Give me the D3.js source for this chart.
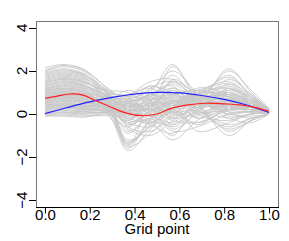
<!DOCTYPE html>
<html>
<head>
<meta charset="utf-8">
<script src="https://cdn.jsdelivr.net/npm/d3@7"></script>
<style>
body { margin: 0; background: #fff; }
svg { display: block; font-family: 'Liberation Sans', Arial, sans-serif; }
</style>
</head>
<body>
<script>
var gridKnots = [0, 0.08, 0.17, 0.28, 0.37, 0.47, 0.57, 0.68, 0.82, 0.92, 1];

// simulated curves (gray)
var grayCurves = [
	[2.15, 2.3, 2.1, 1.2, 0.6, 0.8, 1.2, 0.7, 0.9, 0.6, 0.2],
	[2.0, 2.2, 2.0, 1.0, 0.2, 0.3, 2.2, 0.9, 0.4, 0.3, 0.15],
	[1.9, 2.05, 1.85, 1.1, 0.8, 1.3, 1.0, 0.5, 2.1, 1.0, 0.2],
	[1.8, 1.95, 1.8, 0.9, -0.3, -0.2, 0.6, 0.8, 0.3, 0.2, 0.1],
	[1.7, 1.85, 1.7, 1.0, 0.9, 1.5, 1.6, 0.6, 0.2, 0.4, 0.15],
	[1.6, 1.75, 1.6, 0.8, 0.3, 0.6, -0.2, 0.9, 1.2, 0.6, 0.2],
	[1.5, 1.65, 1.5, 0.7, -1.3, -0.5, 0.8, 1.1, 0.6, 0.2, 0.1],
	[1.45, 1.6, 1.45, 1.1, 1.0, 0.4, 0.1, 0.3, 1.6, 0.9, 0.25],
	[1.35, 1.5, 1.35, 0.6, 0.0, 0.9, 1.3, 0.0, -0.3, 0.0, 0.05],
	[1.3, 1.45, 1.3, 0.9, 0.5, 0.2, 0.5, 0.7, 0.9, 0.5, 0.15],
	[1.2, 1.35, 1.25, 0.5, -1.2, -0.6, 0.3, 0.6, 0.5, 0.3, 0.1],
	[1.15, 1.3, 1.2, 0.8, 0.7, 1.1, 2.0, 1.0, 0.1, -0.2, 0.05],
	[1.1, 1.2, 1.1, 0.7, 0.4, 0.0, -0.6, 0.2, 0.7, 0.6, 0.2],
	[1.0, 1.15, 1.05, 0.6, -0.2, 0.3, 0.9, 0.4, -0.8, -0.3, 0.0],
	[0.95, 1.1, 1.0, 0.5, 0.1, 0.7, 0.4, 0.9, 1.3, 0.7, 0.2],
	[0.9, 1.0, 0.95, 0.55, 0.3, -0.3, -1.2, -0.3, 0.5, 0.4, 0.15],
	[0.85, 0.95, 0.9, 0.4, -0.5, 0.1, 0.7, 0.8, 0.2, 0.1, 0.1],
	[0.8, 0.9, 0.85, 0.6, 0.6, 0.8, 0.2, -0.1, 0.6, 0.5, 0.15],
	[0.75, 0.85, 0.8, 0.3, -1.5, -0.9, 0.0, 0.5, 0.4, 0.2, 0.1],
	[0.7, 0.8, 0.75, 0.5, 0.2, 0.5, 1.1, 0.6, 2.0, 1.1, 0.25],
	[0.65, 0.75, 0.7, 0.4, 0.0, -0.4, 0.3, 1.2, 0.9, 0.4, 0.15],
	[0.6, 0.7, 0.65, 0.3, -0.4, 0.0, -0.8, -0.6, 0.0, 0.1, 0.05],
	[0.55, 0.62, 0.6, 0.45, 0.5, 1.0, 2.3, 0.7, 0.3, 0.2, 0.1],
	[0.5, 0.58, 0.55, 0.2, -1.6, -0.2, 0.6, 0.3, -0.5, -0.2, 0.0],
	[0.45, 0.5, 0.45, 0.35, 0.3, 0.4, 0.0, 0.2, 1.1, 0.8, 0.2],
	[0.4, 0.45, 0.4, 0.2, -0.3, 0.6, 1.0, 0.0, 0.7, 0.3, 0.1],
	[0.35, 0.4, 0.35, 0.25, 0.1, -0.1, -0.4, 0.5, -0.2, -0.4, 0.0],
	[0.3, 0.35, 0.3, 0.1, -0.7, -1.0, -0.3, 0.4, 0.8, 0.5, 0.15],
	[0.25, 0.3, 0.25, 0.2, 0.4, 0.2, 0.5, -0.8, -0.4, 0.0, 0.05],
	[0.2, 0.25, 0.2, 0.0, -1.7, -0.7, 0.2, 1.0, 1.4, 0.7, 0.2],
	[0.15, 0.2, 0.15, 0.15, 0.0, 0.8, 1.4, 0.5, 0.3, 0.2, 0.1],
	[0.1, 0.15, 0.1, 0.05, -0.2, -0.5, -0.9, 0.1, 0.6, 0.4, 0.15],
	[0.05, 0.1, 0.05, 0.1, 0.2, 0.3, 0.8, 0.4, -1.0, -0.3, 0.0],
	[0.0, 0.05, 0.0, 0.0, -0.6, 0.1, 0.3, 0.7, 1.8, 0.8, 0.2],
	[-0.05, 0.0, -0.05, -0.05, 0.3, 0.9, 0.1, -0.4, 0.2, 0.3, 0.1],
	[-0.1, -0.1, -0.15, -0.1, -1.3, -0.3, 1.6, 0.9, 0.4, 0.1, 0.1],
	[1.05, 1.2, 1.1, 0.75, 0.9, 1.2, 0.6, 0.6, 0.0, 0.1, 0.05],
	[1.55, 1.7, 1.55, 0.85, 0.4, 0.6, 1.5, 1.0, 1.0, 0.6, 0.2],
	[0.95, 1.05, 0.95, 0.45, -0.1, 0.5, -0.1, 0.3, 0.5, 0.5, 0.15],
	[0.6, 0.7, 0.6, 0.35, 0.2, 0.2, 0.4, 0.8, 1.2, 0.6, 0.2],
	[2.05, 2.25, 2.05, 1.15, 0.3, 0.9, 0.5, 1.0, 0.8, 0.5, 0.2],
	[1.95, 2.1, 1.9, 0.95, 0.5, 0.4, 1.0, 0.3, 1.4, 0.8, 0.2],
	[1.85, 2.0, 1.85, 1.05, 0.0, 0.7, 0.2, 0.8, 0.6, 0.3, 0.1],
	[1.75, 1.9, 1.75, 0.85, 0.7, 1.0, 0.4, 1.0, -0.1, 0.0, 0.05],
	[1.65, 1.8, 1.65, 0.95, -0.5, 0.2, 1.2, 0.4, 0.9, 0.6, 0.2],
	[1.4, 1.55, 1.4, 0.75, 0.2, -0.4, 0.4, 0.9, 0.3, 0.3, 0.15],
	[1.25, 1.4, 1.3, 0.8, -1.5, 0.4, 0.9, -0.2, 0.5, 0.5, 0.15],
	[1.12, 1.25, 1.15, 0.65, 1.1, 0.6, -0.5, 0.5, 1.0, 0.5, 0.15],
	[1.02, 1.15, 1.05, 0.5, 0.4, 1.3, 0.8, 0.1, 0.2, 0.2, 0.1],
	[0.92, 1.05, 0.95, 0.65, -0.6, -0.8, -0.1, 0.7, 0.7, 0.4, 0.15],
	[0.82, 0.92, 0.88, 0.45, 0.7, 0.2, 0.6, 0.2, -0.6, -0.2, 0.0],
	[0.72, 0.82, 0.78, 0.5, -0.1, 0.6, 1.8, 0.6, 0.5, 0.3, 0.1],
	[0.62, 0.72, 0.68, 0.4, -1.4, -0.4, -0.5, 0.2, 1.0, 0.6, 0.2],
	[0.52, 0.6, 0.55, 0.3, 0.6, 0.0, 0.2, 0.6, 0.1, 0.1, 0.1],
	[0.42, 0.48, 0.42, 0.3, -0.2, 0.3, -0.7, 0.0, 0.4, 0.3, 0.1],
	[0.32, 0.38, 0.33, 0.15, 0.2, 0.9, 0.6, 0.9, 1.7, 0.9, 0.2],
	[0.22, 0.27, 0.22, 0.1, -0.4, -0.6, 0.1, -0.5, 0.3, 0.2, 0.1],
	[0.12, 0.17, 0.12, 0.1, 0.5, 0.4, 1.1, 0.3, -0.2, 0.0, 0.05],
	[0.02, 0.07, 0.03, 0.0, -0.9, -0.2, -1.0, 0.4, 0.6, 0.4, 0.15],
	[-0.08, -0.05, -0.1, 0.05, 0.1, 0.5, 0.5, 1.1, 0.8, 0.3, 0.1],
	[1.48, 1.62, 1.5, 1.0, 0.8, 0.1, 0.3, 0.6, 1.1, 0.7, 0.2],
	[1.32, 1.48, 1.33, 0.7, 0.3, 1.2, 1.5, 0.7, 0.4, 0.2, 0.1],
	[1.18, 1.32, 1.2, 0.85, 0.2, 0.2, -0.3, -0.4, 0.2, 0.3, 0.1],
	[0.88, 0.98, 0.9, 0.35, -0.8, 0.0, 0.9, 1.1, 1.5, 0.8, 0.2],
	[0.78, 0.88, 0.82, 0.55, 0.4, -0.1, 0.1, 0.5, 0.0, -0.1, 0.0],
	[0.68, 0.78, 0.72, 0.6, 0.8, 0.7, 0.7, -0.2, 0.3, 0.4, 0.15],
	[0.58, 0.66, 0.6, 0.25, -0.3, 0.4, 0.4, 0.8, 0.8, 0.4, 0.15],
	[0.48, 0.55, 0.5, 0.4, 0.1, -0.3, 0.9, 0.2, -0.7, -0.3, 0.0],
	[0.38, 0.43, 0.38, 0.2, -1.4, -0.5, 0.3, 0.7, 0.6, 0.3, 0.1],
	[0.28, 0.32, 0.28, 0.25, 0.6, 0.6, -0.2, 0.1, 1.2, 0.7, 0.2]
];

// estimated mean (red)
var meanX = [0, 0.05, 0.11, 0.17, 0.22, 0.29, 0.36, 0.43, 0.5, 0.56, 0.64, 0.72, 0.8, 0.87, 0.94, 1];
var meanY = [0.73, 0.82, 0.93, 0.88, 0.65, 0.34, 0.05, -0.08, 0.0, 0.25, 0.42, 0.5, 0.47, 0.42, 0.3, 0.13];

// true function (blue)
var trueX = [0, 0.1, 0.2, 0.3, 0.4, 0.5, 0.6, 0.7, 0.8, 0.9, 1];
var trueY = [0.02, 0.3, 0.56, 0.77, 0.92, 1.0, 0.98, 0.86, 0.68, 0.42, 0.07];

var xTicks = [0, 0.2, 0.4, 0.6, 0.8, 1];
var yTicks = [-4, -2, 0, 2, 4];

function CurvePlot() {
	this.chart = {};
	this.props = {
		width: 289,
		height: 241,
		left: 36,
		right: 278,
		top: 21,
		bottom: 207
	};
}

CurvePlot.prototype.createChart = function() {
	this.chart.svg = d3.select('body')
		.append('svg')
			.attr('width', this.props.width)
			.attr('height', this.props.height);
	this.chart.svg.append('rect')
		.attr('width', this.props.width)
		.attr('height', this.props.height)
		.attr('fill', '#fff');

	this.chart.x = d3.scaleLinear().domain([-0.04, 1.04]).range([this.props.left, this.props.right]);
	this.chart.y = d3.scaleLinear().domain([-4.32, 4.32]).range([this.props.bottom, this.props.top]);
}

CurvePlot.prototype.addCurves = function() {
	var that = this;
	var line = d3.line()
		.x(function(d) { return that.chart.x(d[0]); })
		.y(function(d) { return that.chart.y(d[1]); })
		.curve(d3.curveCatmullRom.alpha(0.5));

	this.chart.svg.append('g')
		.selectAll('path')
		.data(grayCurves)
		.enter()
		.append('path')
			.attr('d', function(c) {
				return line(c.map(function(v, i) { return [gridKnots[i], v]; }));
			})
			.attr('fill', 'none')
			.attr('stroke', '#c8c8c8')
			.attr('stroke-width', 0.9);

	this.chart.svg.append('path')
		.attr('d', line(trueX.map(function(v, i) { return [v, trueY[i]]; })))
		.attr('fill', 'none')
		.attr('stroke', '#2020ff')
		.attr('stroke-width', 1.2);

	this.chart.svg.append('path')
		.attr('d', line(meanX.map(function(v, i) { return [v, meanY[i]]; })))
		.attr('fill', 'none')
		.attr('stroke', '#ff2020')
		.attr('stroke-width', 1.2);
}

CurvePlot.prototype.addAxes = function() {
	var that = this;
	var p = this.props;

	// box
	this.chart.svg.append('rect')
		.attr('x', p.left + 0.5)
		.attr('y', p.top + 0.5)
		.attr('width', p.right - p.left)
		.attr('height', p.bottom - p.top)
		.attr('fill', 'none')
		.attr('stroke', '#777');

	var xAxis = d3.axisBottom(this.chart.x)
		.tickValues(xTicks)
		.tickFormat(d3.format('.1f'))
		.tickSizeOuter(0)
		.tickSize(6)
		.tickPadding(-4);

	var gx = this.chart.svg.append('g')
		.attr('transform', 'translate(0,' + (p.bottom + 0.5) + ')')
		.call(xAxis);
	gx.select('.domain')
		.attr('d', 'M' + p.left + ',0H' + (p.right + 1))
		.attr('stroke', '#000');
	gx.selectAll('line').attr('stroke', '#000');
	gx.selectAll('text')
		.attr('font-size', '15px')
		.attr('font-family', 'Liberation Sans, Arial, sans-serif')
		.attr('fill', '#000');

	var gy = this.chart.svg.append('g');
	gy.selectAll('line')
		.data(yTicks)
		.enter()
		.append('line')
			.attr('x1', p.left - 7)
			.attr('x2', p.left)
			.attr('y1', function(d) { return Math.round(that.chart.y(d)) + 0.5; })
			.attr('y2', function(d) { return Math.round(that.chart.y(d)) + 0.5; })
			.attr('stroke', '#000');
	gy.selectAll('text')
		.data(yTicks)
		.enter()
		.append('text')
			.attr('transform', function(d) {
				return 'translate(27,' + that.chart.y(d) + ') rotate(-90)';
			})
			.attr('text-anchor', 'middle')
			.attr('font-size', '15px')
			.text(function(d) { return d < 0 ? '\u2212' + Math.abs(d) : d; });

	this.chart.svg.append('text')
		.attr('x', (this.chart.x(0) + this.chart.x(1)) / 2)
		.attr('y', 234)
		.attr('text-anchor', 'middle')
		.attr('font-size', '15px')
		.text('Grid point');
}

var plot = new CurvePlot();
plot.createChart();
plot.addCurves();
plot.addAxes();
</script>
</body>
</html>
